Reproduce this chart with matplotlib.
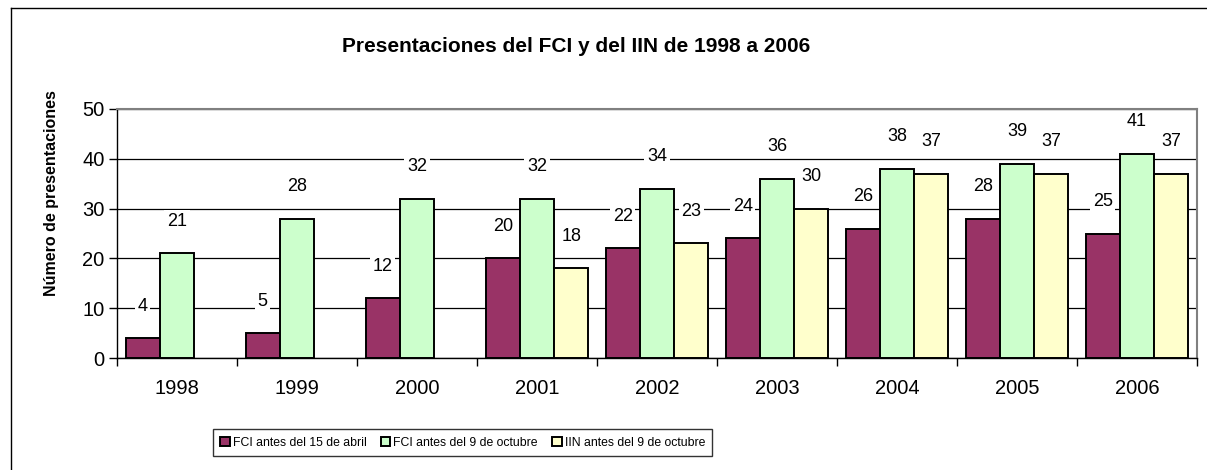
import matplotlib
matplotlib.use("Agg")
import matplotlib.pyplot as plt
import numpy as np
from matplotlib.lines import Line2D

plt.rcParams['font.family'] = ['Liberation Sans', 'DejaVu Sans']

years = ["1998", "1999", "2000", "2001", "2002", "2003", "2004", "2005", "2006"]
fci_abril = [4, 5, 12, 20, 22, 24, 26, 28, 25]
fci_octubre = [21, 28, 32, 32, 34, 36, 38, 39, 41]
iin_octubre = [None, None, None, 18, 23, 30, 37, 37, 37]

series_names = ["FCI antes del 15 de abril", "FCI antes del 9 de octubre", "IIN antes del 9 de octubre"]
colors = ["#993366", "#CCFFCC", "#FFFFCC"]
title = "Presentaciones del FCI y del IIN de 1998 a 2006"
ylabel = "Número de presentaciones"

W, H = 1207, 470
fig = plt.figure(figsize=(W / 100, H / 100), dpi=100)
ax = fig.add_axes([117 / W, 1 - 358 / H, (1197 - 117) / W, (358 - 109) / H])

x = np.arange(len(years))
bw = 0.2857
handles = []
for i, (vals, c, name) in enumerate(zip([fci_abril, fci_octubre, iin_octubre], colors, series_names)):
    xs = [xi + (i - 1) * bw for xi, v in zip(x, vals) if v is not None]
    vs = [v for v in vals if v is not None]
    bars = ax.bar(xs, vs, width=bw, color=c, edgecolor="black", linewidth=1.4, zorder=3, label=name)
    handles.append(bars)
    for xx, v in zip(xs, vs):
        ax.annotate(str(v), (xx, v), xytext=(0, 23), textcoords="offset points",
                    ha="center", va="center", fontsize=13, zorder=5,
                    bbox=dict(boxstyle="square,pad=0.15", fc="white", ec="none"))

ax.set_xlim(-0.5, len(years) - 0.5)
ax.set_ylim(0, 50)
ax.set_yticks([0, 10, 20, 30, 40, 50])
ax.set_xticks(x)
ax.set_xticklabels(years)
ax.set_xticks(np.arange(-0.5, len(years), 1.0), minor=True)
ax.tick_params(axis="x", which="major", length=0, pad=15, labelsize=14.5)
ax.tick_params(axis="x", which="minor", length=6, width=1, direction="out")
ax.tick_params(axis="y", length=6, width=1, direction="out", labelsize=14.5, pad=3)
ax.yaxis.grid(True, color="black", linewidth=0.9, zorder=0)
ax.set_axisbelow(True)
for s in ["top", "right"]:
    ax.spines[s].set_color("#808080")
    ax.spines[s].set_linewidth(1.5)
for s in ["left", "bottom"]:
    ax.spines[s].set_color("black")
    ax.spines[s].set_linewidth(1)
ax.spines["bottom"].set_zorder(4)

fig.text(52 / W, 1 - 193 / H, ylabel, rotation=90, ha="center", va="center",
         fontsize=11.5, fontweight="bold")
fig.text(576 / W, 1 - 46 / H, title, ha="center", va="center", fontsize=15, fontweight="bold")

# outer chart border
fig.add_artist(Line2D([11 / W, 11 / W], [1 - 8 / H, 0], transform=fig.transFigure, color="black", lw=1))
fig.add_artist(Line2D([11 / W, 1], [1 - 8 / H, 1 - 8 / H], transform=fig.transFigure, color="black", lw=1))

leg = fig.legend(handles=handles, labels=series_names, ncol=3, loc="center left",
                 bbox_to_anchor=(213 / W, 1 - 442.5 / H), frameon=True, fancybox=False,
                 edgecolor="black", handlelength=0.75, handleheight=0.75, handletextpad=0.25,
                 columnspacing=1.2, borderpad=0.6, borderaxespad=0,
                 prop={"size": 8.8})
leg.get_frame().set_linewidth(1)

fig.savefig("out.png", dpi=100)
